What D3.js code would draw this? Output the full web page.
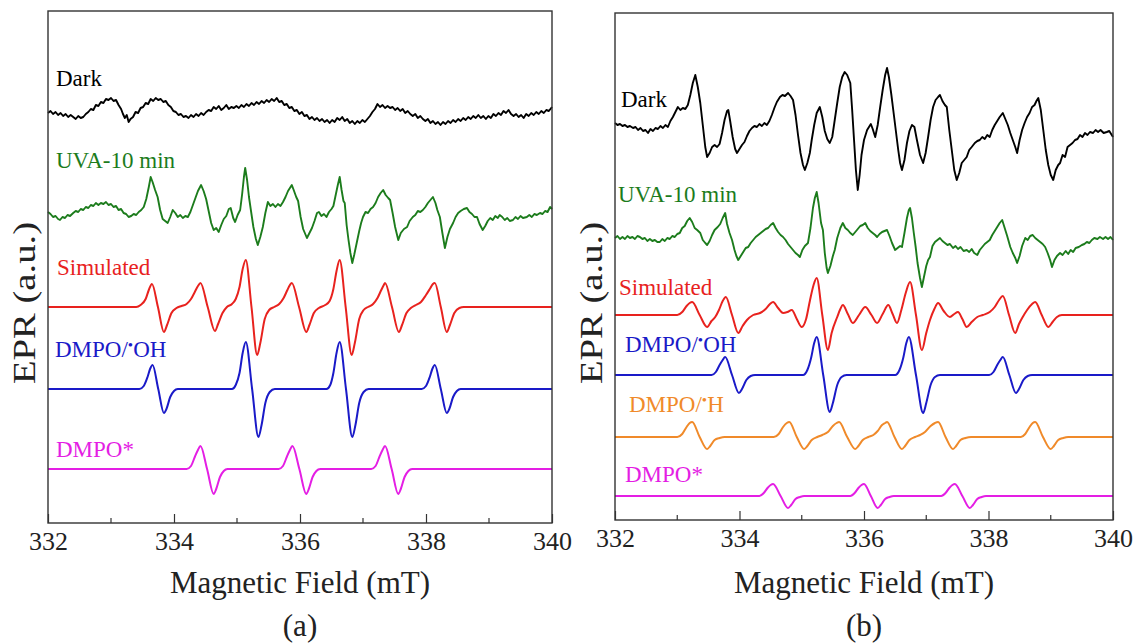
<!DOCTYPE html>
<html>
<head>
<meta charset="utf-8">
<script src="https://cdnjs.cloudflare.com/ajax/libs/d3/7.8.5/d3.min.js"></script>
<style>
  body { margin: 0; background: #fff; }
</style>
</head>
<body>
<div class="chart"></div>
<script>
var svgWidth = 1137;
var svgHeight = 644;
var serif = "'Liberation Serif', 'Times New Roman', Times, serif";

// field axis
var fieldTicks = [332, 334, 336, 338, 340];
var minorTicks = [333, 335, 337, 339];

// ---- panel (a) spectra: [field mT, signal a.u. relative to trace baseline] ----
var darkA = [[332.00,0],[332.04,2],[332.08,-1],[332.12,1],[332.16,-2],[332.20,0],[332.24,-3],[332.28,-1],[332.32,-4],[332.36,-2],[332.40,-4],[332.44,-6],[332.48,-3],[332.52,-5],[332.56,-4],[332.60,-1],[332.64,1],[332.68,4],[332.72,3],[332.76,8],[332.80,7],[332.84,11],[332.88,10],[332.92,14],[332.96,13],[333.00,15],[333.04,12],[333.08,13],[333.12,8],[333.16,4],[333.19,-1],[333.22,-5],[333.25,-2],[333.28,-9],[333.31,-6],[333.35,-4],[333.39,1],[333.43,0],[333.47,5],[333.51,6],[333.55,10],[333.59,9],[333.63,14],[333.67,12],[333.71,15],[333.75,13],[333.79,14],[333.83,11],[333.87,12],[333.91,8],[333.95,6],[333.99,2],[334.03,1],[334.07,-2],[334.11,-1],[334.15,-4],[334.19,-3],[334.23,-5],[334.27,-2],[334.31,-4],[334.35,-1],[334.39,-3],[334.43,0],[334.47,-2],[334.51,1],[334.55,3],[334.59,2],[334.63,6],[334.67,4],[334.71,7],[334.75,3],[334.79,5],[334.83,8],[334.87,4],[334.91,6],[334.95,5],[334.99,7],[335.03,5],[335.07,8],[335.11,6],[335.15,9],[335.19,7],[335.23,10],[335.27,8],[335.31,11],[335.35,9],[335.39,12],[335.43,10],[335.47,13],[335.51,11],[335.55,14],[335.59,12],[335.63,15],[335.67,11],[335.71,12],[335.75,8],[335.79,9],[335.83,5],[335.87,6],[335.91,2],[335.95,3],[335.99,-1],[336.03,1],[336.07,-3],[336.11,-2],[336.15,-6],[336.19,-4],[336.23,-7],[336.27,-5],[336.31,-8],[336.35,-6],[336.39,-9],[336.43,-7],[336.47,-10],[336.51,-7],[336.55,-9],[336.59,-5],[336.63,-7],[336.67,-4],[336.71,-8],[336.75,-6],[336.79,-10],[336.83,-8],[336.87,-11],[336.91,-8],[336.95,-10],[336.99,-7],[337.03,-9],[337.07,-6],[337.11,-3],[337.15,1],[337.19,4],[337.23,9],[337.27,6],[337.31,8],[337.35,5],[337.39,7],[337.43,5],[337.47,6],[337.51,3],[337.55,5],[337.59,2],[337.63,4],[337.67,0],[337.71,2],[337.75,-1],[337.79,-3],[337.83,-1],[337.87,-5],[337.91,-3],[337.95,-6],[337.99,-8],[338.03,-6],[338.07,-10],[338.11,-8],[338.15,-11],[338.19,-9],[338.23,-12],[338.27,-9],[338.31,-11],[338.35,-8],[338.39,-10],[338.43,-7],[338.47,-9],[338.51,-6],[338.55,-8],[338.59,-5],[338.63,-7],[338.67,-4],[338.71,-6],[338.75,-3],[338.79,-5],[338.83,-2],[338.87,-5],[338.91,-3],[338.95,-6],[338.99,-3],[339.03,-5],[339.07,-1],[339.11,-3],[339.15,0],[339.19,-2],[339.23,2],[339.27,0],[339.31,3],[339.35,-1],[339.39,-3],[339.43,-1],[339.47,-4],[339.51,-2],[339.55,-5],[339.59,-1],[339.63,-3],[339.67,0],[339.71,-2],[339.75,1],[339.79,-1],[339.83,2],[339.87,0],[339.91,3],[339.95,2],[340.00,6]];

var uvaA = [[332.00,3],[332.04,1],[332.08,-2],[332.12,-1],[332.16,-4],[332.19,-5],[332.23,-2],[332.27,-3],[332.31,0],[332.35,-1],[332.40,2],[332.44,4],[332.48,3],[332.52,6],[332.56,5],[332.60,8],[332.64,7],[332.68,10],[332.72,9],[332.76,12],[332.80,10],[332.84,12],[332.88,11],[332.92,13],[332.96,10],[333.00,11],[333.04,8],[333.08,9],[333.12,5],[333.16,6],[333.20,2],[333.24,1],[333.28,-2],[333.32,-1],[333.36,1],[333.40,0],[333.44,3],[333.48,5],[333.52,8],[333.56,16],[333.60,28],[333.63,38],[333.66,33],[333.70,25],[333.74,18],[333.78,5],[333.82,-4],[333.86,-6],[333.90,-8],[333.94,-2],[333.98,5],[334.02,2],[334.06,-2],[334.10,0],[334.14,-3],[334.18,-1],[334.22,-2],[334.26,3],[334.30,10],[334.34,17],[334.38,24],[334.43,30],[334.47,24],[334.51,16],[334.55,4],[334.59,-8],[334.63,-15],[334.67,-13],[334.71,-17],[334.75,-10],[334.79,-4],[334.83,-1],[334.87,6],[334.90,7],[334.94,-3],[334.97,-7],[335.01,0],[335.05,5],[335.08,20],[335.11,38],[335.13,47],[335.16,35],[335.19,18],[335.22,5],[335.26,-12],[335.30,-24],[335.33,-30],[335.37,-22],[335.41,-12],[335.45,2],[335.49,13],[335.53,9],[335.57,11],[335.61,8],[335.65,11],[335.69,9],[335.73,13],[335.77,18],[335.81,24],[335.85,28],[335.87,30],[335.90,25],[335.94,18],[335.97,14],[336.01,-2],[336.05,-14],[336.09,-20],[336.11,-23],[336.15,-18],[336.19,-13],[336.23,-6],[336.27,2],[336.30,3],[336.34,-1],[336.38,1],[336.42,-2],[336.46,3],[336.50,6],[336.53,9],[336.56,18],[336.60,30],[336.63,38],[336.66,25],[336.69,14],[336.71,12],[336.74,-10],[336.77,-25],[336.80,-38],[336.83,-48],[336.86,-40],[336.90,-28],[336.94,-16],[336.97,-8],[337.00,-2],[337.04,3],[337.08,2],[337.12,6],[337.16,8],[337.20,12],[337.24,18],[337.28,22],[337.32,25],[337.36,20],[337.40,17],[337.43,15],[337.47,2],[337.51,-12],[337.56,-25],[337.60,-18],[337.65,-14],[337.70,-12],[337.74,-6],[337.79,-2],[337.83,0],[337.87,4],[337.91,3],[337.95,5],[337.99,8],[338.03,12],[338.07,15],[338.11,18],[338.15,12],[338.18,5],[338.22,-2],[338.26,-18],[338.30,-33],[338.34,-22],[338.38,-14],[338.43,-8],[338.47,-2],[338.51,2],[338.55,4],[338.60,6],[338.65,7],[338.69,3],[338.73,1],[338.77,-2],[338.81,-2],[338.85,-9],[338.90,-15],[338.94,-11],[338.98,-6],[339.02,-3],[339.06,-5],[339.10,-1],[339.14,-3],[339.17,0],[339.21,-2],[339.25,-5],[339.29,-3],[339.33,-6],[339.38,-5],[339.42,-2],[339.46,-4],[339.50,-1],[339.54,-3],[339.60,-2],[339.64,0],[339.68,-2],[339.72,1],[339.76,0],[339.81,2],[339.85,1],[339.89,4],[339.93,3],[339.97,8],[340.00,6]];

var simA = [[332.00,0],[333.40,0],[333.47,2],[333.55,8],[333.60,17],[333.65,23],[333.745,0],[333.84,-25],[333.89,-18],[333.96,-6],[334.04,-1],[334.12,1],[334.20,3],[334.27,8],[334.33,15],[334.38,21],[334.42,24],[334.535,0],[334.65,-24],[334.70,-17],[334.77,-6],[334.84,0],[334.92,3],[334.98,8],[335.04,20],[335.09,38],[335.14,47],[335.23,0],[335.32,-48],[335.37,-36],[335.44,-12],[335.51,-3],[335.59,0],[335.67,3],[335.74,9],[335.80,17],[335.84,22],[335.87,24],[335.985,0],[336.10,-25],[336.15,-18],[336.22,-6],[336.30,-1],[336.40,2],[336.47,6],[336.53,18],[336.58,36],[336.63,47],[336.725,0],[336.82,-48],[336.87,-36],[336.94,-12],[337.01,-3],[337.08,0],[337.16,3],[337.23,9],[337.29,17],[337.33,22],[337.35,24],[337.46,0],[337.57,-25],[337.62,-18],[337.69,-6],[337.76,-1],[337.84,2],[337.92,5],[338.00,12],[338.07,19],[338.11,23],[338.14,24],[338.235,0],[338.33,-25],[338.38,-18],[338.45,-6],[338.53,-1],[338.60,0],[340.00,0]];

var ohA = [[332.00,0],[333.45,0],[333.52,3],[333.58,12],[333.62,20],[333.66,24],[333.75,0],[333.84,-24],[333.88,-20],[333.94,-8],[334.00,-2],[334.06,0],[334.92,0],[334.98,4],[335.04,16],[335.09,36],[335.14,47],[335.24,0],[335.34,-48],[335.39,-36],[335.45,-14],[335.52,-3],[335.60,0],[336.42,0],[336.48,4],[336.53,16],[336.58,36],[336.63,47],[336.73,0],[336.83,-48],[336.88,-36],[336.94,-14],[337.01,-3],[337.09,0],[337.93,0],[338.00,3],[338.06,12],[338.10,20],[338.14,24],[338.235,0],[338.33,-24],[338.37,-20],[338.43,-8],[338.49,-2],[338.55,0],[340.00,0]];

var starA = [[332.00,0],[334.20,0],[334.27,3],[334.33,12],[334.38,19],[334.42,23],[334.525,0],[334.63,-25],[334.67,-20],[334.73,-8],[334.79,-2],[334.85,0],[335.66,0],[335.73,3],[335.79,12],[335.84,19],[335.88,23],[335.99,0],[336.10,-25],[336.14,-20],[336.20,-8],[336.26,-2],[336.32,0],[337.13,0],[337.20,3],[337.26,12],[337.31,19],[337.35,23],[337.455,0],[337.56,-25],[337.60,-20],[337.66,-8],[337.72,-2],[337.78,0],[340.00,0]];

// ---- panel (b) spectra ----
var darkB = [[332.00,2],[332.04,0],[332.08,1],[332.12,-1],[332.16,0],[332.20,-2],[332.24,-1],[332.29,-3],[332.33,-2],[332.37,-5],[332.41,-3],[332.45,-6],[332.49,-5],[332.53,-8],[332.57,-4],[332.61,-6],[332.65,-3],[332.69,-4],[332.73,-1],[332.77,-3],[332.81,0],[332.85,-2],[332.89,4],[332.93,8],[332.97,13],[333.01,18],[333.05,15],[333.09,17],[333.13,16],[333.17,20],[333.21,30],[333.25,42],[333.29,50],[333.33,38],[333.37,22],[333.41,0],[333.45,-22],[333.48,-32],[333.52,-28],[333.56,-22],[333.60,-20],[333.64,-22],[333.68,-19],[333.72,-8],[333.76,5],[333.80,14],[333.82,15],[333.85,4],[333.89,-12],[333.93,-24],[333.96,-28],[334.00,-24],[334.04,-20],[334.08,-17],[334.12,-11],[334.16,-6],[334.20,-3],[334.24,-1],[334.28,-2],[334.32,1],[334.36,-1],[334.40,2],[334.44,0],[334.48,4],[334.52,10],[334.56,17],[334.60,23],[334.65,28],[334.69,30],[334.73,29],[334.78,32],[334.82,29],[334.86,25],[334.90,10],[334.94,-10],[334.98,-28],[335.02,-40],[335.05,-45],[335.09,-38],[335.13,-28],[335.16,-15],[335.20,0],[335.24,12],[335.29,18],[335.33,8],[335.37,-6],[335.41,-14],[335.45,-18],[335.49,-12],[335.53,5],[335.57,22],[335.61,38],[335.65,48],[335.69,53],[335.73,50],[335.78,42],[335.81,15],[335.84,-15],[335.87,-45],[335.90,-65],[335.93,-50],[335.96,-30],[336.00,-15],[336.05,-5],[336.08,-2],[336.11,1],[336.14,-4],[336.18,-12],[336.22,0],[336.26,18],[336.30,35],[336.34,50],[336.37,57],[336.40,48],[336.44,30],[336.47,15],[336.51,-5],[336.55,-25],[336.58,-38],[336.61,-45],[336.65,-35],[336.69,-18],[336.73,-6],[336.77,0],[336.81,-2],[336.85,-15],[336.90,-30],[336.95,-38],[336.99,-28],[337.03,-12],[337.07,5],[337.11,18],[337.15,25],[337.19,28],[337.22,30],[337.26,24],[337.30,20],[337.33,18],[337.37,-5],[337.41,-25],[337.45,-45],[337.49,-55],[337.53,-48],[337.57,-38],[337.61,-35],[337.65,-32],[337.69,-25],[337.73,-22],[337.78,-18],[337.82,-16],[337.86,-15],[337.90,-12],[337.94,-14],[337.98,-10],[338.02,-12],[338.06,-5],[338.10,0],[338.14,4],[338.18,8],[338.23,12],[338.27,6],[338.31,0],[338.35,-8],[338.39,-15],[338.43,-22],[338.46,-28],[338.50,-15],[338.54,-5],[338.58,2],[338.62,8],[338.66,12],[338.70,18],[338.74,20],[338.77,24],[338.80,27],[338.84,15],[338.88,-5],[338.92,-25],[338.96,-40],[339.00,-50],[339.04,-55],[339.08,-45],[339.12,-40],[339.15,-38],[339.19,-30],[339.23,-32],[339.27,-22],[339.31,-20],[339.35,-18],[339.39,-15],[339.43,-14],[339.47,-10],[339.51,-12],[339.55,-8],[339.59,-10],[339.63,-7],[339.68,-8],[339.72,-5],[339.76,-7],[339.80,-5],[339.85,-8],[339.90,-7],[339.94,-6],[339.97,-9],[340.00,-12]];

var uvaB = [[332.00,0],[332.04,2],[332.08,-1],[332.12,1],[332.16,-1],[332.20,2],[332.24,0],[332.28,1],[332.32,-1],[332.36,2],[332.40,1],[332.44,-1],[332.48,0],[332.52,-3],[332.56,-1],[332.60,-3],[332.64,-2],[332.68,-4],[332.72,-4],[332.76,-1],[332.80,-3],[332.84,0],[332.88,-1],[332.92,2],[332.96,1],[333.00,4],[333.04,5],[333.08,10],[333.12,12],[333.16,17],[333.20,20],[333.24,16],[333.28,10],[333.32,8],[333.37,5],[333.41,-2],[333.45,-5],[333.48,-7],[333.52,-3],[333.56,3],[333.60,8],[333.65,11],[333.69,14],[333.73,20],[333.77,25],[333.80,14],[333.84,5],[333.88,-2],[333.92,-12],[333.95,-18],[333.98,-22],[334.02,-18],[334.06,-14],[334.10,-10],[334.14,-9],[334.18,-5],[334.22,-2],[334.26,1],[334.30,3],[334.34,5],[334.38,7],[334.42,9],[334.46,10],[334.50,13],[334.54,15],[334.58,10],[334.62,6],[334.66,3],[334.70,1],[334.74,-2],[334.78,-6],[334.82,-9],[334.86,-12],[334.90,-15],[334.94,-17],[334.97,-19],[335.01,-12],[335.05,-8],[335.10,-5],[335.14,10],[335.18,30],[335.21,40],[335.24,46],[335.27,35],[335.31,15],[335.34,8],[335.37,-15],[335.40,-30],[335.42,-35],[335.46,-28],[335.50,-18],[335.53,-12],[335.57,0],[335.62,10],[335.66,15],[335.70,10],[335.74,8],[335.78,5],[335.82,3],[335.86,6],[335.90,9],[335.94,12],[335.98,13],[336.02,15],[336.06,10],[336.10,7],[336.14,5],[336.18,3],[336.21,1],[336.25,4],[336.29,6],[336.33,7],[336.37,8],[336.41,2],[336.45,-5],[336.50,-12],[336.54,-10],[336.58,-8],[336.61,-9],[336.65,5],[336.69,20],[336.72,28],[336.74,30],[336.77,20],[336.80,5],[336.83,-9],[336.86,-25],[336.90,-40],[336.93,-49],[336.96,-40],[337.00,-28],[337.03,-22],[337.06,-19],[337.10,-8],[337.14,-4],[337.18,-2],[337.22,0],[337.26,-3],[337.30,-5],[337.34,-7],[337.38,-6],[337.43,-10],[337.47,-8],[337.51,-11],[337.55,-9],[337.60,-13],[337.65,-12],[337.69,-14],[337.73,-11],[337.77,-15],[337.82,-17],[337.86,-12],[337.90,-9],[337.94,-6],[337.98,-4],[338.02,-2],[338.06,3],[338.10,7],[338.14,11],[338.18,15],[338.22,18],[338.26,10],[338.30,2],[338.35,-9],[338.39,-15],[338.43,-20],[338.46,-25],[338.50,-18],[338.54,-8],[338.59,0],[338.63,-2],[338.67,2],[338.71,3],[338.75,0],[338.79,-2],[338.83,-4],[338.87,-6],[338.91,-9],[338.95,-15],[338.99,-22],[339.02,-29],[339.06,-22],[339.10,-18],[339.15,-15],[339.19,-17],[339.24,-13],[339.28,-16],[339.32,-12],[339.36,-14],[339.40,-10],[339.45,-9],[339.50,-7],[339.54,-6],[339.58,-4],[339.62,-5],[339.66,-2],[339.70,0],[339.75,-1],[339.79,1],[339.84,-1],[339.88,1],[339.92,-1],[339.96,1],[340.00,-2]];

var simB = [[332.00,0],[333.00,0],[333.08,3],[333.15,9],[333.20,12],[333.24,13],[333.36,0],[333.48,-12],[333.55,-6],[333.61,-2],[333.67,5],[333.73,14],[333.78,18],[333.88,0],[333.98,-18],[334.05,-11],[334.12,-5],[334.22,0],[334.33,2],[334.42,6],[334.49,11],[334.54,13],[334.62,7],[334.70,2],[334.77,3],[334.84,5],[334.92,-4],[335.00,-12],[335.07,-4],[335.13,14],[335.19,30],[335.24,37],[335.33,0],[335.42,-35],[335.48,-18],[335.57,-2],[335.62,6],[335.66,10],[335.74,1],[335.82,-8],[335.92,0],[336.02,8],[336.12,0],[336.21,-8],[336.30,1],[336.39,10],[336.46,1],[336.53,-8],[336.60,5],[336.67,22],[336.74,33],[336.835,0],[336.93,-35],[337.00,-18],[337.06,-5],[337.13,6],[337.19,12],[337.28,4],[337.38,-2],[337.45,1],[337.51,3],[337.58,-4],[337.65,-12],[337.73,-7],[337.82,-2],[337.91,0],[338.02,3],[338.10,8],[338.17,15],[338.23,19],[338.33,0],[338.43,-18],[338.49,-9],[338.55,-2],[338.62,5],[338.70,11],[338.75,13],[338.855,0],[338.96,-12],[339.03,-7],[339.10,-2],[339.18,0],[340.00,0]];

var ohB = [[332.00,0],[333.55,0],[333.62,3],[333.68,10],[333.73,15],[333.77,18],[333.88,0],[333.99,-18],[334.04,-14],[334.11,-5],[334.18,-1],[334.25,0],[335.02,0],[335.09,5],[335.15,17],[335.20,32],[335.24,38],[335.345,0],[335.45,-37],[335.50,-28],[335.57,-10],[335.64,-2],[335.72,0],[336.50,0],[336.57,5],[336.63,17],[336.68,32],[336.72,38],[336.835,0],[336.95,-38],[337.00,-28],[337.07,-10],[337.14,-2],[337.22,0],[338.01,0],[338.08,3],[338.14,10],[338.19,15],[338.23,18],[338.335,0],[338.44,-18],[338.49,-14],[338.56,-5],[338.63,-1],[338.70,0],[340.00,0]];

var hB = [[332.00,0],[333.00,0],[333.08,3],[333.15,10],[333.20,14],[333.24,15],[333.36,0],[333.48,-12],[333.53,-9],[333.60,-3],[333.68,-1],[333.76,0],[334.55,0],[334.63,3],[334.70,10],[334.76,14],[334.80,15],[334.92,0],[335.04,-12],[335.09,-9],[335.16,-3],[335.25,0],[335.33,2],[335.42,5],[335.50,11],[335.56,14],[335.60,15],[335.73,0],[335.86,-12],[335.91,-9],[335.98,-3],[336.07,0],[336.15,2],[336.22,6],[336.29,12],[336.34,14],[336.37,15],[336.49,0],[336.61,-12],[336.66,-9],[336.73,-3],[336.82,0],[336.90,2],[336.98,5],[337.07,11],[337.14,14],[337.19,15],[337.31,0],[337.43,-12],[337.48,-9],[337.55,-3],[337.63,-1],[337.72,0],[338.52,0],[338.59,3],[338.66,10],[338.71,14],[338.75,15],[338.875,0],[339.00,-12],[339.05,-9],[339.12,-3],[339.20,-1],[339.28,0],[340.00,0]];

var starB = [[332.00,0],[334.32,0],[334.39,3],[334.45,8],[334.50,11],[334.54,12],[334.66,0],[334.78,-12],[334.83,-9],[334.90,-3],[334.97,-1],[335.04,0],[335.78,0],[335.85,3],[335.91,8],[335.96,11],[336.00,12],[336.11,0],[336.22,-12],[336.27,-9],[336.34,-3],[336.41,-1],[336.48,0],[337.24,0],[337.31,3],[337.37,8],[337.42,11],[337.46,12],[337.58,0],[337.70,-12],[337.75,-9],[337.82,-3],[337.89,-1],[337.96,0],[340.00,0]];

// trace offsets (a.u.)
var baseA = [410, 308, 216, 134, 54];
var baseB = [395, 282, 205, 145, 83, 24];

var colors = {
  dark: "#000000",
  uva: "#1c7c1c",
  sim: "#e8221e",
  oh: "#1a1ac8",
  h: "#f08a2a",
  star: "#e41ee4"
};

var svg = d3.select(".chart")
  .append("svg")
  .attr("width", svgWidth)
  .attr("height", svgHeight)
  .style("font-family", serif);

function superDot(sel, pre, post) {
  sel.append("tspan").style("font-family", serif).text(pre);
  sel.append("tspan").style("font-family", serif).style("font-size", "15px").attr("dy", -7).text("\u2022");
  sel.append("tspan").style("font-family", serif).attr("dy", 7).text(post);
}

function drawPanel(p) {
  var x = d3.scaleLinear().domain([332, 340]).range([p.left, p.right]);
  var y = d3.scaleLinear().domain([0, p.bottom - p.top]).range([p.bottom, p.top]);

  var g = svg.append("g");

  // traces
  p.traces.forEach(function(t) {
    var line = d3.line()
      .x(d => x(d[0]))
      .y(d => y(d[1] + t.base))
      .curve(t.smooth ? d3.curveMonotoneX : d3.curveLinear);
    g.append("path")
      .datum(t.data)
      .attr("fill", "none")
      .attr("stroke", t.color)
      .attr("stroke-width", t.smooth ? 2 : 1.9)
      .attr("stroke-linejoin", "round")
      .attr("d", line);
  });

  // labels
  p.labels.forEach(function(l) {
    var txt = g.append("text")
      .attr("x", l.x)
      .attr("y", l.y)
      .style("font-family", serif)
      .style("font-size", "23px")
      .attr("fill", l.color);
    if (l.post !== undefined) superDot(txt, l.text, l.post);
    else txt.text(l.text);
  });

  // frame
  g.append("rect")
    .attr("x", p.left)
    .attr("y", p.top)
    .attr("width", p.right - p.left)
    .attr("height", p.bottom - p.top)
    .attr("fill", "none")
    .attr("stroke", "#333")
    .attr("stroke-width", 1.4);

  // major ticks + labels
  var bottomAxis = d3.axisBottom(x)
    .tickValues(fieldTicks)
    .tickFormat(d3.format("d"))
    .tickSizeInner(-9)
    .tickSizeOuter(0)
    .tickPadding(9);
  var ax = g.append("g")
    .attr("transform", `translate(0, ${p.bottom})`)
    .call(bottomAxis);
  ax.select(".domain").remove();
  ax.selectAll("line").attr("stroke", "#333").attr("stroke-width", 1.2);
  ax.selectAll("text")
    .style("font-family", serif)
    .style("font-size", "26px")
    .attr("fill", "#222");

  // minor ticks
  g.selectAll(".minor")
    .data(minorTicks)
    .enter()
    .append("line")
    .attr("x1", d => x(d))
    .attr("x2", d => x(d))
    .attr("y1", p.bottom)
    .attr("y2", p.bottom - 5)
    .attr("stroke", "#333")
    .attr("stroke-width", 1.2);

  // axis titles
  var mid = (p.left + p.right) / 2;
  g.append("text")
    .attr("x", mid)
    .attr("y", 593)
    .attr("text-anchor", "middle")
    .style("font-family", serif)
    .style("font-size", "32px")
    .attr("textLength", 260)
    .attr("lengthAdjust", "spacingAndGlyphs")
    .attr("fill", "#222")
    .text("Magnetic Field (mT)");

  g.append("text")
    .attr("x", mid)
    .attr("y", 636)
    .attr("text-anchor", "middle")
    .style("font-family", serif)
    .style("font-size", "31px")
    .attr("fill", "#222")
    .text(p.tag);

  g.append("text")
    .attr("transform", `translate(${p.left - 13}, 303) rotate(-90)`)
    .attr("text-anchor", "middle")
    .style("font-family", serif)
    .style("font-size", "31px")
    .attr("textLength", 162)
    .attr("lengthAdjust", "spacingAndGlyphs")
    .attr("fill", "#222")
    .text("EPR (a.u.)");
}

drawPanel({
  left: 48, right: 552, top: 11, bottom: 523, tag: "(a)",
  traces: [
    { data: darkA, base: baseA[0], color: colors.dark, smooth: false },
    { data: uvaA, base: baseA[1], color: colors.uva, smooth: false },
    { data: simA, base: baseA[2], color: colors.sim, smooth: true },
    { data: ohA, base: baseA[3], color: colors.oh, smooth: true },
    { data: starA, base: baseA[4], color: colors.star, smooth: true }
  ],
  labels: [
    { text: "Dark", x: 56, y: 86, color: colors.dark },
    { text: "UVA-10 min", x: 56, y: 168, color: colors.uva },
    { text: "Simulated", x: 57, y: 275, color: colors.sim },
    { text: "DMPO/", post: "OH", x: 55, y: 357, color: colors.oh },
    { text: "DMPO*", x: 56, y: 457, color: colors.star }
  ]
});

drawPanel({
  left: 615, right: 1113, top: 13, bottom: 520, tag: "(b)",
  traces: [
    { data: darkB, base: baseB[0], color: colors.dark, smooth: false },
    { data: uvaB, base: baseB[1], color: colors.uva, smooth: false },
    { data: simB, base: baseB[2], color: colors.sim, smooth: true },
    { data: ohB, base: baseB[3], color: colors.oh, smooth: true },
    { data: hB, base: baseB[4], color: colors.h, smooth: true },
    { data: starB, base: baseB[5], color: colors.star, smooth: true }
  ],
  labels: [
    { text: "Dark", x: 621, y: 107, color: colors.dark },
    { text: "UVA-10 min", x: 618, y: 202, color: colors.uva },
    { text: "Simulated", x: 619, y: 295, color: colors.sim },
    { text: "DMPO/", post: "OH", x: 625, y: 352, color: colors.oh },
    { text: "DMPO/", post: "H", x: 629, y: 412, color: colors.h },
    { text: "DMPO*", x: 625, y: 482, color: colors.star }
  ]
});
</script>
</body>
</html>
